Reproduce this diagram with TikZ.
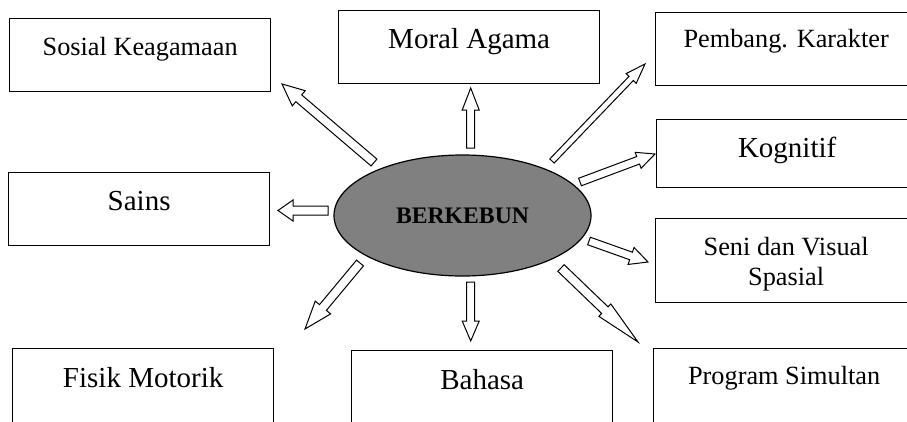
\documentclass[tikz,border=0pt]{standalone}
\usepackage{fontspec}
\setmainfont{Liberation Serif}
\usepackage{tikz}
\usetikzlibrary{shapes.geometric,calc}

\definecolor{hubgray}{RGB}{128,128,128}
\newcommand{\bigtext}{\fontsize{29}{34}\selectfont}
\newcommand{\smalltext}{\fontsize{26.3}{30}\selectfont}

% block arrow: tail, tip, half shaft, half head, head length
\newcommand{\blockarrow}[5]{
  \coordinate (neck) at ($(#2)!#5!(#1)$);
  \draw[barrow] ($(#1)!#3!90:(#2)$) -- ($(neck)!#3!90:(#2)$) -- ($(neck)!#4!90:(#2)$) -- (#2)
    -- ($(neck)!#4!-90:(#2)$) -- ($(neck)!#3!-90:(#2)$) -- ($(#1)!#3!-90:(#2)$) -- cycle;
}

\begin{document}
\begin{tikzpicture}
            [x=1pt,y=-1pt,
             box/.style={draw,line width=1.3pt,rectangle,inner sep=0pt,anchor=north west,
               minimum width=261pt,text height=37pt,text depth=36pt,align=center},
             hub/.style={ellipse,draw,line width=1.2pt,fill=hubgray,inner sep=0pt,
               minimum width=257pt,minimum height=121pt},
             barrow/.style={draw,line width=1pt,fill=white}]
            \useasboundingbox (0,0) rectangle (907,421);
            \clip (0,0) rectangle (907,421);
            \node[hub] (kebun) at (462.5,215.5) {\fontsize{23.7}{28}\selectfont\bfseries BERKEBUN};
            % the boxes
            \node[box,font=\smalltext] (sosial) at (9,18) {Sosial Keagamaan};
            \node[box,font=\bigtext,text height=38pt,text depth=35pt] (moral) at (338,10) {Moral Agama};
            \node[box,font=\smalltext,text height=35pt,text depth=38pt] (karakter) at (655,12) {Pembang. Karakter};
            \node[box,font=\bigtext,text height=38pt,text depth=30pt] (kognitif) at (656,119) {Kognitif};
            \node[box,font=\bigtext,text height=38pt,text depth=35pt] (sains) at (8,172) {Sains};
            \node[box,font=\smalltext,text height=67pt,text depth=17pt] (seni) at (655,218) {Seni dan Visual\\Spasial};
            \node[box,font=\bigtext,text height=39pt,text depth=40pt] (fisik) at (12,348) {Fisik Motorik};
            \node[box,font=\bigtext,text height=39pt,text depth=40pt] (bahasa) at (351,350) {Bahasa};
            \node[box,font=\smalltext,text height=36pt,text depth=43pt] (simultan) at (653,348) {Program Simultan};
            % arrow ends
            \coordinate (moral-tail) at (470.7,148);
            \coordinate (moral-tip) at (470.7,88);
            \coordinate (sosial-tail) at (374,162.5);
            \coordinate (sosial-tip) at (282,84);
            \coordinate (karakter-tail) at (552,161);
            \coordinate (karakter-tip) at (645,64);
            \coordinate (kognitif-tail) at (580,182);
            \coordinate (kognitif-tip) at (655,154);
            \coordinate (sains-tail) at (328,210.5);
            \coordinate (sains-tip) at (278,210.5);
            \coordinate (seni-tail) at (589,241);
            \coordinate (seni-tip) at (648,262);
            \coordinate (fisik-tail) at (360,263);
            \coordinate (fisik-tip) at (305,329);
            \coordinate (bahasa-tail) at (470.7,282);
            \coordinate (bahasa-tip) at (470.7,341);
            \coordinate (simultan-tail) at (561,268);
            \coordinate (simultan-tip) at (638,342);
            % the arrows
            \blockarrow{moral-tail}{moral-tip}{4pt}{8.5pt}{22pt}
            \blockarrow{sosial-tail}{sosial-tip}{4.5pt}{10pt}{22pt}
            \blockarrow{karakter-tail}{karakter-tip}{3pt}{7pt}{20pt}
            \blockarrow{kognitif-tail}{kognitif-tip}{4pt}{8.5pt}{18pt}
            \blockarrow{sains-tail}{sains-tip}{4.5pt}{10.5pt}{15pt}
            \blockarrow{seni-tail}{seni-tip}{4pt}{9pt}{18pt}
            \blockarrow{fisik-tail}{fisik-tip}{4.5pt}{10pt}{28pt}
            \blockarrow{bahasa-tail}{bahasa-tip}{4pt}{8.5pt}{20pt}
            \blockarrow{simultan-tail}{simultan-tip}{4.6pt}{8.6pt}{46pt}
        \end{tikzpicture}
\end{document}
